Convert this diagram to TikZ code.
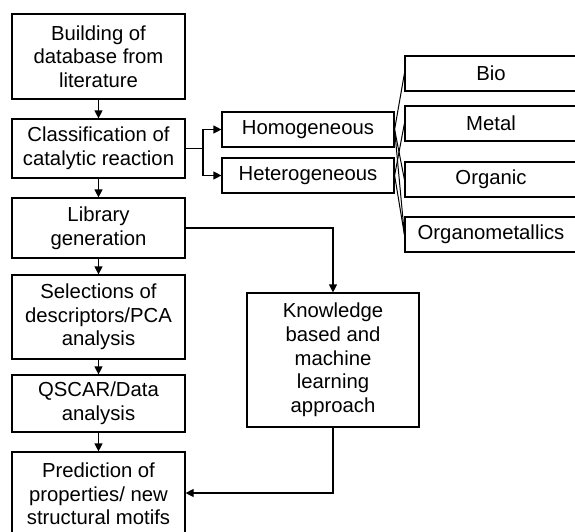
\documentclass[tikz,border=0pt]{standalone}
\usepackage{fontspec}
\setmainfont{Liberation Sans}
\usetikzlibrary{arrows.meta}
\tikzset{
  box/.style={draw, line width=1.2pt, inner sep=0pt, align=center, font=\fontsize{20.3}{23.7}\selectfont, minimum width=173pt},
  rbox/.style={box, minimum width=172pt, minimum height=35pt},
  conn/.style={line width=1.2pt},
  arr/.style={conn, -{Triangle[length=8pt,width=8pt]}}
}
\begin{document}
\begin{tikzpicture}[x=1pt,y=-1pt]
\useasboundingbox (0,0) rectangle (575,531);
\clip (0,0) rectangle (575,531);
\node[box, minimum height=85pt] (b1) at (98.5,56.5) {Building of\\database from\\literature};
\node[box, minimum height=59pt] (b2) at (98.5,148.5) {Classification of\\catalytic reaction};
\node[box, minimum height=60pt] (b3) at (98.5,228) {Library\\generation};
\node[box, minimum height=84pt] (b4) at (98.5,317) {Selections of\\descriptors/PCA\\analysis};
\node[box, minimum height=57pt] (b5) at (98.5,403.5) {QSCAR/Data\\analysis};
\node[box, minimum height=84pt] (b6) at (98.5,494) {Prediction of\\properties/ new\\structural motifs};
\node[rbox] (hom) at (308,129.5) {Homogeneous};
\node[rbox] (het) at (308,175.5) {Heterogeneous};
\node[box, minimum width=172pt, minimum height=134pt] (kn) at (333,360) {Knowledge\\based and\\machine\\learning\\approach};
\node[rbox] (bio) at (491,73.5) {Bio};
\node[rbox] (metal) at (491,123.5) {Metal};
\node[rbox] (org) at (491,179.5) {Organic};
\node[rbox] (orgm) at (491,234.5) {Organometallics};
% vertical chain
\draw[arr] (b1) -- (b2);
\draw[arr] (b2) -- (b3);
\draw[arr] (b3) -- (b4);
\draw[arr] (b4) -- (b5);
\draw[arr] (b5) -- (b6);
% branch
\coordinate (br) at (203,148.5);
\draw[conn] (b2.east) -- (br);
\draw[arr] (br) |- (hom.west);
\draw[arr] (br) |- (het.west);
% library to knowledge
\draw[arr] (b3.east) -| (kn.north);
\draw[arr] (kn.south) |- (b6.east |- 0,493);
% fan lines
\draw[conn, line width=1pt] (hom.east) -- (bio.west);
\draw[conn, line width=1pt] (hom.east) -- (org.west);
\draw[conn, line width=1pt] (hom.east) -- (orgm.west);
\draw[conn, line width=1pt] (het.east) -- (metal.west);
\draw[conn, line width=1pt] (het.east) -- (orgm.west);
\end{tikzpicture}
\end{document}
